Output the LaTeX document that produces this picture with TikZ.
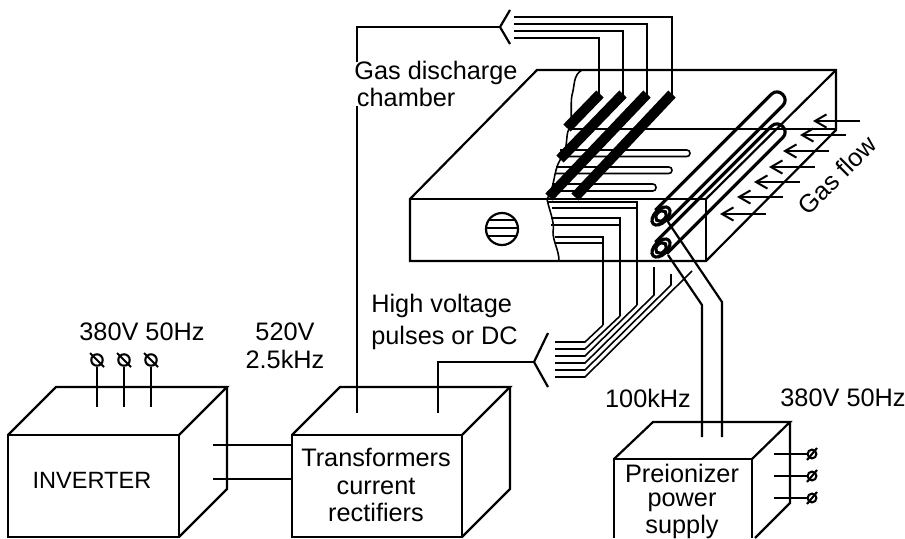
\documentclass[tikz,border=0pt]{standalone}
\usepackage{fontspec}
\setmainfont{Liberation Sans}
\usetikzlibrary{arrows.meta}
\tikzset{
    wire/.style={black, line width=1.25pt, line join=miter},
    thinwire/.style={black, line width=0.9pt},
    electrode/.style={black, line width=5.8pt},
    tube/.style={black, line width=1.8pt},
    flowarrow/.style={black, line width=1.15pt, -{Straight Barb[length=6.5pt,width=7.5pt]}},
    label/.style={font=\fontsize{14.4}{13}\selectfont, inner sep=0pt, align=center},
    terminal/.style={circle, draw=black, line width=1.2pt, minimum size=6.5pt, inner sep=0pt},
}
\begin{document}
\begin{tikzpicture}[x=0.02cm, y=-0.02cm]
    \useasboundingbox (0,0) rectangle (905,538);

    \coordinate (upperfork) at (500,27);
    \coordinate (lowerfork) at (534,362);
    \coordinate (rectifierA) at (357,413);
    \coordinate (rectifierB) at (438,413);
    \coordinate (tubeendA) at (661,216);
    \coordinate (tubeendB) at (661,248);
    \coordinate (preionizerA) at (722,437);
    \coordinate (preionizerB) at (702,437);

    \draw
        [wire] (8,537)--(8,435)--(179,435)--(179,537)--cycle;
    \draw
        [wire] (8,435)--(56,387)--(227,387)--(179,435);
    \draw
        [wire] (227,387)--(227,489)--(179,537);
    \draw
        [wire] (292,537)--(292,435)--(462,435)--(462,537)--cycle;
    \draw
        [wire] (292,435)--(340,387)--(510,387)--(462,435);
    \draw
        [wire] (510,387)--(510,489)--(462,537);
    \draw
        [wire] (614,538)--(614,459)--(752,459)--(752,538);
    \draw
        [wire] (614,459)--(653,422)--(790,422)--(752,459);
    \draw
        [wire] (790,422)--(790,503)--(755,538);

    \node [label] (mains) at (142,332) {380V 50Hz};
    \foreach \x/\name in {97/a, 124/b, 151/c} {
        \node [terminal] (inverter\name) at (\x,360) {};
        \draw [black, line width=1.2pt] (\x-7,353)--(\x+7,367);
        \draw [wire] (inverter\name)--(\x,407);
    }
    \draw
        [wire] (213,445)--(292,445);
    \draw
        [wire] (213,479)--(292,479);

    \draw
        [wire] (rectifierA)--(357,27)--(upperfork);
    \draw
        [wire] (510,10)--(upperfork)--(510,44);
    \draw
        [wire] (rectifierB)--(438,362)--(lowerfork);
    \draw
        [wire] (548,333)--(lowerfork)--(548,387);

    \node [label, align=left, anchor=west, fill=white] (chamber) at (354,84) {Gas discharge\\[0.5pt]\hspace*{1.5pt}chamber};

    \draw
        [wire] (514,17)--(672,17)--(672,95);
    \draw
        [wire] (514,24)--(647,24)--(647,95);
    \draw
        [wire] (514,31)--(623,31)--(623,95);
    \draw
        [wire] (514,38)--(599,38)--(599,95);
    \draw
        [electrode] (600,94)--(567,128);
    \draw
        [electrode] (623,94)--(560,159);
    \draw
        [electrode] (647,94)--(549,197);
    \draw
        [electrode] (672,94)--(575,197);

    \draw
        [wire] (582,70)--(836,70)--(836,130)--(706,261)--(410,261)--(410,199)--(537,70)--(582,70);
    \draw
        [wire] (410,199)--(706,199)--(706,261);
    \draw
        [wire] (836,70)--(706,199);
    \draw
        [wire] (569,129)--(836,129);

    \draw
        [thinwire] (582,70) .. controls (573,75) and (575,85) .. (572,95)
        .. controls (570,105) and (573,118) .. (569,129)
        .. controls (565,135) and (569,150) .. (560,160)
        .. controls (553,172) and (555,188) .. (547,199)
        .. controls (549,210) and (555,222) .. (553,232)
        .. controls (553,242) and (559,250) .. (559,261);

    \draw
        [thinwire, rounded corners=1.8pt] (560,150)--(690,150)--(690,156.5)--(560,156.5);
    \draw
        [thinwire, rounded corners=1.8pt] (556,167)--(672,167)--(672,173.5)--(556,173.5);
    \draw
        [thinwire, rounded corners=1.8pt] (552,184)--(656,184)--(656,191)--(552,191);

    \draw
        [wire] (548,202)--(637,202)--(637,305);
    \draw
        [thinwire] (552,208)--(637,208);
    \draw
        [wire] (551,218)--(620,218)--(620,316);
    \draw
        [thinwire] (551,225)--(620,225);
    \draw
        [wire] (555,237)--(603,237)--(603,325);
    \draw
        [thinwire] (555,243)--(603,243);

    \draw
        [thinwire] (555,342)--(585,342)--(603,325);
    \draw
        [thinwire] (555,349)--(585,349)--(620,316);
    \draw
        [thinwire] (555,356)--(585,356)--(637,305);
    \draw
        [thinwire] (555,363)--(585,363)--(654,295)--(654,267);
    \draw
        [thinwire] (555,370)--(585,370)--(671,285)--(671,274);
    \draw
        [thinwire] (555,377)--(585,377)--(692,271);

    \draw
        [wire] (502,229) circle [radius=16];
    \foreach \y/\half in {220/13, 228/16, 236/14} {
        \draw [wire] (502-\half,\y)--(502+\half,\y);
    }

    \foreach \yshift in {0,32} {
        \draw
            [tube] (655.3,210.3+\yshift)--(771.3,94.3+\yshift)
            .. controls (778.8,86.8+\yshift) and (790.2,98.2+\yshift) .. (782.7,105.7+\yshift)
            --(666.7,221.7+\yshift);
    }
    \draw [tube, rotate around={45:(tubeendA)}, fill=white] (tubeendA) ellipse [x radius=11, y radius=6.5];
    \draw [tube, rotate around={45:(tubeendA)}] (tubeendA) ellipse [x radius=6, y radius=4.5];
    \draw [tube, rotate around={45:(tubeendB)}, fill=white] (tubeendB) ellipse [x radius=11, y radius=6.5];
    \draw [tube, rotate around={45:(tubeendB)}] (tubeendB) ellipse [x radius=6, y radius=4.5];

    \draw
        [wire] (tubeendA)++(7,6)--(722,302)--(preionizerA);
    \draw
        [wire] (tubeendB)++(7,7)--(702,305)--(preionizerB);

    \foreach \y/\name in {454/a, 476/b, 498/c} {
        \node [terminal, minimum size=5pt] (supply\name) at (812,\y) {};
        \draw [black, line width=1.2pt] (807,\y+6)--(817,\y-6);
        \draw [wire] (774,\y)--(supply\name);
    }

    \foreach \x/\y/\len in {860/121/47, 846/135/46, 829/151/46, 815/167/46, 800/182/46, 783/197/46, 766/214/46} {
        \draw [flowarrow] (\x,\y)--(\x-\len,\y);
    }

    \node [label, align=left, anchor=west] (pulses) at (371,322) {High voltage\\[4pt]pulses or DC};
    \node [label] (middle) at (285,346) {520V\\[3pt]2.5kHz};
    \node [label, font=\fontsize{13.4}{13}\selectfont] (inverter) at (92,480) {INVERTER};
    \node [label] (rectifier) at (376,485) {Transformers\\[2.6pt]current\\[2.6pt]rectifiers};
    \node [label] (frequency) at (648,398) {100kHz};
    \node [label] (supplymains) at (843,398) {380V 50Hz};
    \node [label] (preionizer) at (682,501) {Preionizer\\[0.8pt]power\\[0.8pt]supply};
    \node [label, rotate=45] (gasflow) at (837,175) {Gas flow};
\end{tikzpicture}
\end{document}
